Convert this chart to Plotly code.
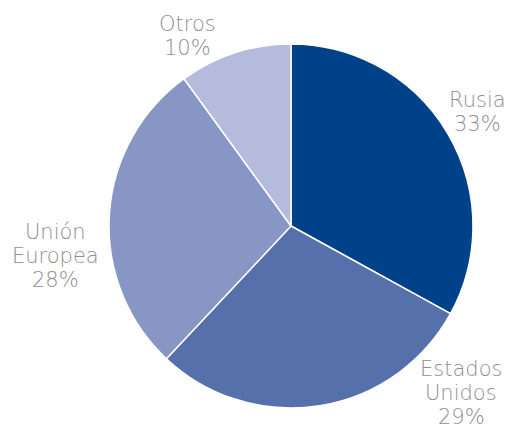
import plotly.graph_objects as go

labels = ["Rusia", "Estados<br>Unidos", "Unión<br>Europea", "Otros"]
values = [33, 29, 28, 10]
colors = ["#00428A", "#5570AB", "#8796C4", "#B5BBDD"]

# label block centres in figure pixels (layout only)
label_pos = [(477, 112), (461, 393), (55, 256), (187, 36)]
LINE_H = 24

W, H = 508, 425
cx, cy, r = 291, 226, 182

fig = go.Figure(go.Pie(
    labels=labels,
    values=values,
    sort=False,
    direction="clockwise",
    rotation=0,
    automargin=False,
    marker=dict(colors=colors, line=dict(color="white", width=1.5)),
    textinfo="none",
    showlegend=False,
    hoverinfo="label+percent",
    domain=dict(x=[(cx - r) / W, (cx + r) / W], y=[1 - (cy + r) / H, 1 - (cy - r) / H]),
))

for lab, v, (px, py) in zip(labels, values, label_pos):
    lines = f"{lab}<br>{v}%".split("<br>")
    n = len(lines)
    for i, line in enumerate(lines):
        ly = py + (i - (n - 1) / 2) * LINE_H
        fig.add_annotation(
            x=px / W, y=1 - ly / H, xref="paper", yref="paper",
            text=line, showarrow=False,
            xanchor="center", yanchor="middle", align="center",
            font=dict(family="DejaVu Sans", size=21, weight=200, color="#8f8f8f"),
        )

fig.update_layout(
    width=W, height=H,
    margin=dict(l=0, r=0, t=0, b=0, autoexpand=False),
    paper_bgcolor="white",
    plot_bgcolor="white",
)

fig.write_html(
    "out.html",
    config={"displayModeBar": False},
    post_script="document.body.style.margin='0';document.body.style.overflow='hidden';",
)
